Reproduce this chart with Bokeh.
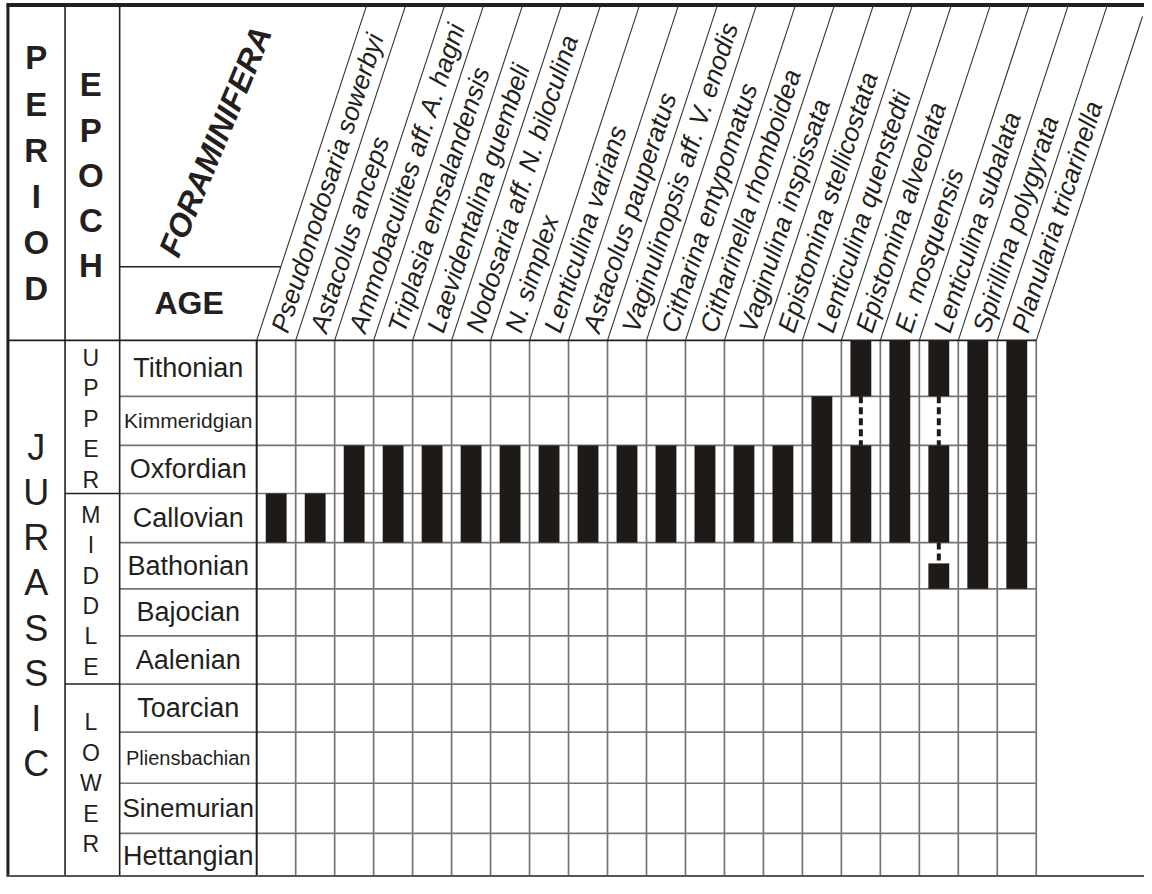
import math
from bokeh.plotting import figure
from bokeh.models import Range1d
from bokeh.core.properties import value
from bokeh.embed import file_html
from bokeh.resources import INLINE

# ---------------- data ----------------
AGES = ["Tithonian", "Kimmeridgian", "Oxfordian", "Callovian", "Bathonian",
        "Bajocian", "Aalenian", "Toarcian", "Pliensbachian", "Sinemurian",
        "Hettangian"]
EPOCH_NAMES = ["UPPER", "MIDDLE", "LOWER"]
EPOCH_AGE_COUNT = [3, 4, 4]
PERIOD_NAME = "JURASSIC"

SPECIES = ["Pseudonodosaria sowerbyi", "Astacolus anceps",
           "Ammobaculites aff. A. hagni", "Triplasia emsalandensis",
           "Laevidentalina guembeli", "Nodosaria aff. N. biloculina",
           "N. simplex", "Lenticulina varians", "Astacolus pauperatus",
           "Vaginulinopsis aff. V. enodis", "Citharina entypomatus",
           "Citharinella rhomboidea", "Vaginulina inspissata",
           "Epistomina stellicostata", "Lenticulina quenstedti",
           "Epistomina alveolata", "E. mosquensis", "Lenticulina subalata",
           "Spirillina polygyrata", "Planularia tricarinella"]
# youngest (top) and oldest (base) age of each range
RANGE_TOP = ["Callovian", "Callovian", "Oxfordian", "Oxfordian", "Oxfordian",
             "Oxfordian", "Oxfordian", "Oxfordian", "Oxfordian", "Oxfordian",
             "Oxfordian", "Oxfordian", "Oxfordian", "Oxfordian",
             "Kimmeridgian", "Tithonian", "Tithonian", "Tithonian",
             "Tithonian", "Tithonian"]
RANGE_BASE = ["Callovian", "Callovian", "Callovian", "Callovian", "Callovian",
              "Callovian", "Callovian", "Callovian", "Callovian", "Callovian",
              "Callovian", "Callovian", "Callovian", "Callovian", "Callovian",
              "Callovian", "Callovian", "Bathonian", "Bathonian", "Bathonian"]
# uncertain (dashed) parts of ranges: species, age, fraction of age from top
UNC_SPECIES = ["Epistomina alveolata", "Lenticulina subalata", "Lenticulina subalata"]
UNC_AGE = ["Kimmeridgian", "Kimmeridgian", "Bathonian"]
UNC_FROM = [0.0, 0.0, 0.0]
UNC_TO = [1.0, 1.0, 0.45]

# ---------------- layout (reference pixel units) ----------------
LEFT, TOP, RIGHT, BOTTOM = 6, 4, 1152, 892
X_PERIOD, X_EPOCH, X_AGE, X0 = 7, 65, 120, 258
COL_W = 39.25
Y_HEAD = 346
ROW_H = [57, 50, 49, 50, 47, 48, 49, 49, 52, 51, 46]
SLANT = 111.0 / 342.0
BAR_HW = 10.5
INK = "#231f20"
BAR = "#1e1a18"
GRID = "#747474"
SANS = "Liberation Sans"

row_edges = [Y_HEAD]
for h in ROW_H:
    row_edges.append(row_edges[-1] + h)
X_END = X0 + COL_W * len(SPECIES)


def col_center(i):
    return X0 + COL_W * (i + 0.5)


def age_pos(age, frac):
    i = AGES.index(age)
    return row_edges[i] + frac * ROW_H[i]


p = figure(width=1144, height=878, x_range=Range1d(0, 1152),
           y_range=Range1d(-894, 0), output_backend="svg",
           toolbar_location=None, x_axis_location=None, y_axis_location=None,
           min_border=0, outline_line_color=None)
p.xgrid.visible = False
p.ygrid.visible = False
p.background_fill_color = "white"

# ---- grid body ----
gx = [X0 + COL_W * i for i in range(1, len(SPECIES) + 1)]
p.segment(x0=gx, y0=[-Y_HEAD] * len(gx), x1=gx, y1=[-BOTTOM] * len(gx),
          line_color=GRID, line_width=1.7)
inner = row_edges[1:-1]
p.segment(x0=[X_AGE] * len(inner), y0=[-y for y in inner],
          x1=[X_END] * len(inner), y1=[-y for y in inner],
          line_color=GRID, line_width=1.7)

# epoch boundaries
eb = []
acc = 0
for n in EPOCH_AGE_COUNT[:-1]:
    acc += n
    eb.append(row_edges[acc])
p.segment(x0=[X_EPOCH] * len(eb), y0=[-y for y in eb], x1=[X_AGE] * len(eb),
          y1=[-y for y in eb], line_color=INK, line_width=1.5)

# ---- range bars ----
bl, br, bt, bb = [], [], [], []
dx, dy0, dy1 = [], [], []
for i, sp in enumerate(SPECIES):
    s = age_pos(RANGE_TOP[i], 0.0)
    e = age_pos(RANGE_BASE[i], 1.0)
    gaps = []
    for k, us in enumerate(UNC_SPECIES):
        if us == sp:
            gaps.append((age_pos(UNC_AGE[k], UNC_FROM[k]), age_pos(UNC_AGE[k], UNC_TO[k])))
    gaps.sort()
    cur = s
    xc = col_center(i)
    for g0, g1 in gaps:
        if g0 > cur:
            bl.append(xc - BAR_HW); br.append(xc + BAR_HW); bt.append(-cur); bb.append(-g0)
        dx.append(xc); dy0.append(-g0); dy1.append(-g1)
        cur = g1
    if e > cur:
        bl.append(xc - BAR_HW); br.append(xc + BAR_HW); bt.append(-cur); bb.append(-e)

p.quad(left=bl, right=br, top=bt, bottom=bb, fill_color=BAR, line_color=None)
p.segment(x0=dx, y0=dy0, x1=dx, y1=dy1, line_color=BAR, line_width=4,
          line_dash="7 4")

# ---- header lines ----
sx0 = [X0 + COL_W * i for i in range(len(SPECIES) + 1)]
sx1, sy1 = [], []
for x in sx0:
    xt = x + (Y_HEAD - TOP) * SLANT
    if xt > RIGHT - 2:
        sy1.append(-(Y_HEAD - (RIGHT - 2 - x) / SLANT))
        sx1.append(RIGHT - 2)
    else:
        sy1.append(-TOP)
        sx1.append(xt)
p.segment(x0=sx0, y0=[-Y_HEAD] * len(sx0), x1=sx1, y1=sy1,
          line_color="#333333", line_width=1.1)
y_mid = 271
p.segment(x0=[X_AGE], y0=[-y_mid], x1=[X0 + (Y_HEAD - y_mid) * SLANT], y1=[-y_mid],
          line_color=INK, line_width=1.5)
p.segment(x0=[X_PERIOD], y0=[-Y_HEAD], x1=[X_END], y1=[-Y_HEAD],
          line_color=INK, line_width=1.8)
p.segment(x0=[X_EPOCH, X_AGE], y0=[-TOP, -TOP], x1=[X_EPOCH, X_AGE],
          y1=[-BOTTOM, -BOTTOM], line_color=INK, line_width=1.6)
p.segment(x0=[X0], y0=[-Y_HEAD], x1=[X0], y1=[-BOTTOM], line_color=INK, line_width=2)

# frame
p.segment(x0=[LEFT], y0=[-4.5], x1=[RIGHT], y1=[-4.5], line_color=INK, line_width=4)
p.segment(x0=[7.5], y0=[-4], x1=[7.5], y1=[-BOTTOM], line_color=INK, line_width=3)
p.segment(x0=[LEFT], y0=[-891.5], x1=[RIGHT], y1=[-891.5], line_color="#555555", line_width=2)

# ---- header texts ----
pl = list("PERIOD")
p.text(x=[36] * len(pl), y=[-(176 + (k - (len(pl) - 1) / 2) * 47) for k in range(len(pl))],
       text=pl, text_font=value(SANS), text_font_style="bold",
       text_font_size=value("33px"), text_align="center", text_baseline="middle",
       text_color=INK)
el = list("EPOCH")
p.text(x=[91] * len(el), y=[-(178 + (k - (len(el) - 1) / 2) * 46) for k in range(len(el))],
       text=el, text_font=value(SANS), text_font_style="bold",
       text_font_size=value("33px"), text_align="center", text_baseline="middle",
       text_color=INK)
p.text(x=[190], y=[-308], text=["AGE"], text_font=value(SANS), text_font_style="bold",
       text_font_size=value("32px"), text_align="center", text_baseline="middle",
       text_color=INK)
p.text(x=[169], y=[-259], text=["FORAMINIFERA"], angle=[math.radians(67.5)],
       text_font=value(SANS), text_font_style="bold italic",
       text_font_size=value("32px"), text_align="left", text_baseline="alphabetic",
       text_color=INK)

# species labels
ang = math.atan2(1.0, SLANT)
lab_y = 337
p.text(x=[X0 + COL_W * i + COL_W / 2 + (Y_HEAD - lab_y) * SLANT for i in range(len(SPECIES))],
       y=[-lab_y] * len(SPECIES), text=SPECIES, angle=[ang] * len(SPECIES),
       text_font=value(SANS), text_font_style="italic",
       text_font_size=value("26px"), text_align="left", text_baseline="middle",
       text_color=INK)

# age labels
AGE_FONT = {"Kimmeridgian": "21px", "Pliensbachian": "20px", "Sinemurian": "26px"}
p.text(x=[189] * len(AGES),
       y=[-(row_edges[j] + ROW_H[j] / 2) for j in range(len(AGES))],
       text=AGES, text_font=value(SANS),
       text_font_size=[AGE_FONT.get(a, "27px") for a in AGES],
       text_align="center", text_baseline="middle", text_color=INK)

# epoch letters
start = 0
for name, n in zip(EPOCH_NAMES, EPOCH_AGE_COUNT):
    top_e, bot_e = row_edges[start], row_edges[start + n]
    cen = (top_e + bot_e) / 2 + 2
    letters = list(name)
    p.text(x=[91] * len(letters),
           y=[-(cen + (k - (len(letters) - 1) / 2) * 31) for k in range(len(letters))],
           text=letters, text_font=value(SANS), text_font_size=value("23px"),
           text_align="center", text_baseline="middle", text_color=INK)
    start += n

# period letters
jl = list(PERIOD_NAME)
pc = (row_edges[0] + row_edges[-1]) / 2 - 4
p.text(x=[36] * len(jl), y=[-(pc + (k - (len(jl) - 1) / 2) * 46) for k in range(len(jl))],
       text=jl, text_font=value(SANS), text_font_size=value("36px"),
       text_align="center", text_baseline="middle", text_color=INK)

open("out.html", "w").write(file_html(p, INLINE))
